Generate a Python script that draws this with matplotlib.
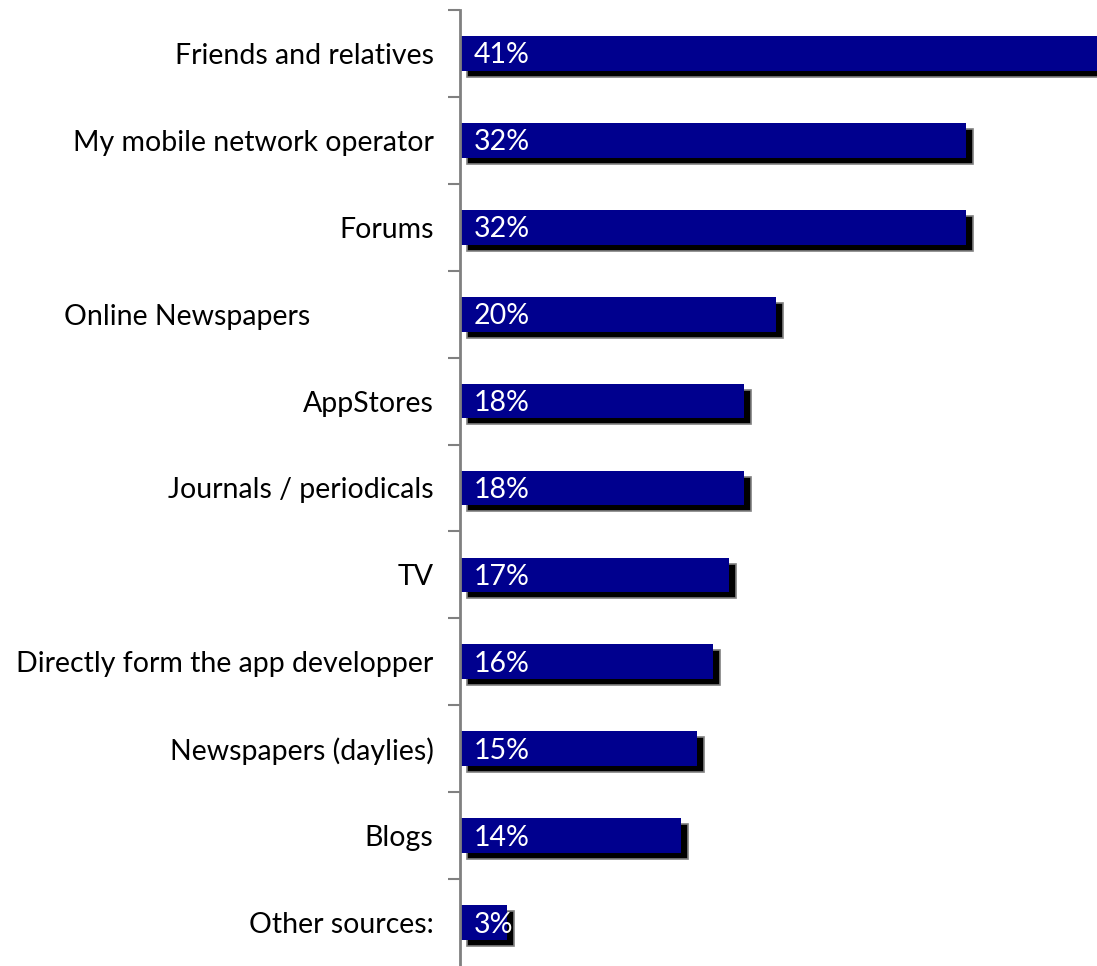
import numpy as np
import matplotlib
matplotlib.use('Agg')
import matplotlib.pyplot as plt
import matplotlib.transforms as mtransforms

plt.rcParams['font.family'] = ['Lato', 'DejaVu Sans']

# Sources of information about apps (share of respondents, %)
categories = [
    'Friends and relatives',
    'My mobile network operator',
    'Forums',
    'Online Newspapers' + ' ' * 17,
    'AppStores',
    'Journals / periodicals',
    'TV',
    'Directly form the app developper',
    'Newspapers (daylies)',
    'Blogs',
    'Other sources:',
]
values = [41, 32, 32, 20, 18, 18, 17, 16, 15, 14, 3]

BAR_COLOR = '#00008E'
SPINE_COLOR = '#808080'

W, H, DPI = 1097, 966, 100
fig = plt.figure(figsize=(W / DPI, H / DPI), dpi=DPI)
ax = fig.add_axes([460 / W, 0, 1 - 460 / W, 1 - 10 / H])

y = np.arange(len(categories))
height = 0.40

# shadow bars, shifted right/down by a few pixels
shadow = mtransforms.ScaledTranslation(7 / DPI, -6 / DPI, fig.dpi_scale_trans)
ax.barh(y, values, height=height, left=0, color='black', edgecolor=SPINE_COLOR,
        linewidth=1.2, transform=ax.transData + shadow, zorder=1)
ax.barh(y, values, height=height, left=0, color=BAR_COLOR, zorder=2)

for yi, v in zip(y, values):
    ax.annotate(f'{v}%', xy=(0, yi), xytext=(14, -2), textcoords='offset pixels',
                ha='left', va='center', color='white', fontsize=20.5, zorder=3)

ax.set_xlim(0, (W - 460) / 15.8)
ax.set_ylim(len(categories) - 0.5, -0.5)

ax.set_yticks(y)
ax.set_yticklabels(categories, fontsize=20.5)
ax.tick_params(axis='y', which='major', length=0, pad=19)
ax.set_yticks(np.arange(len(categories)) - 0.5, minor=True)
ax.tick_params(axis='y', which='minor', length=9, width=1.5, color=SPINE_COLOR)
ax.set_xticks([])

for side in ['top', 'right', 'bottom']:
    ax.spines[side].set_visible(False)
ax.spines['left'].set_color(SPINE_COLOR)
ax.spines['left'].set_linewidth(2)
ax.spines['left'].set_zorder(4)

fig.savefig('out.png', dpi=DPI)
